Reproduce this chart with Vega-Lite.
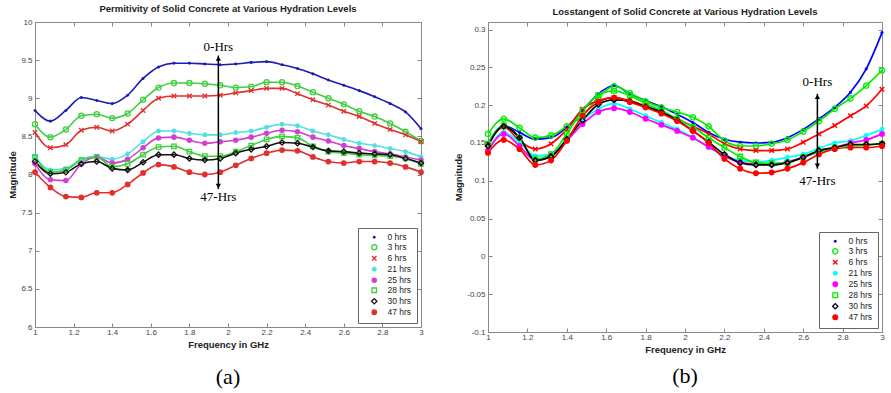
{
"$schema":"https://vega.github.io/schema/vega-lite/v6.json",
"background":"white",
"padding":{"left":7,"top":3,"right":5,"bottom":5},
"datasets":{
"perm":[
{"s":"0 hrs","f":1,"v":8.84},{"s":"0 hrs","f":1.08,"v":8.70},{"s":"0 hrs","f":1.16,"v":8.84},{"s":"0 hrs","f":1.24,"v":9.01},{"s":"0 hrs","f":1.32,"v":8.97},{"s":"0 hrs","f":1.4,"v":8.93},{"s":"0 hrs","f":1.48,"v":9.04},{"s":"0 hrs","f":1.56,"v":9.26},{"s":"0 hrs","f":1.64,"v":9.41},{"s":"0 hrs","f":1.72,"v":9.46},{"s":"0 hrs","f":1.8,"v":9.46},{"s":"0 hrs","f":1.88,"v":9.45},{"s":"0 hrs","f":1.96,"v":9.44},{"s":"0 hrs","f":2.04,"v":9.45},{"s":"0 hrs","f":2.12,"v":9.47},{"s":"0 hrs","f":2.2,"v":9.48},{"s":"0 hrs","f":2.28,"v":9.44},{"s":"0 hrs","f":2.36,"v":9.39},{"s":"0 hrs","f":2.44,"v":9.32},{"s":"0 hrs","f":2.52,"v":9.24},{"s":"0 hrs","f":2.6,"v":9.17},{"s":"0 hrs","f":2.68,"v":9.10},{"s":"0 hrs","f":2.76,"v":9.02},{"s":"0 hrs","f":2.84,"v":8.93},{"s":"0 hrs","f":2.92,"v":8.82},{"s":"0 hrs","f":3,"v":8.60},
{"s":"3 hrs","f":1,"v":8.66},{"s":"3 hrs","f":1.08,"v":8.49},{"s":"3 hrs","f":1.16,"v":8.59},{"s":"3 hrs","f":1.24,"v":8.77},{"s":"3 hrs","f":1.32,"v":8.79},{"s":"3 hrs","f":1.4,"v":8.74},{"s":"3 hrs","f":1.48,"v":8.80},{"s":"3 hrs","f":1.56,"v":8.98},{"s":"3 hrs","f":1.64,"v":9.14},{"s":"3 hrs","f":1.72,"v":9.20},{"s":"3 hrs","f":1.8,"v":9.20},{"s":"3 hrs","f":1.88,"v":9.19},{"s":"3 hrs","f":1.96,"v":9.17},{"s":"3 hrs","f":2.04,"v":9.14},{"s":"3 hrs","f":2.12,"v":9.15},{"s":"3 hrs","f":2.2,"v":9.21},{"s":"3 hrs","f":2.28,"v":9.21},{"s":"3 hrs","f":2.36,"v":9.16},{"s":"3 hrs","f":2.44,"v":9.08},{"s":"3 hrs","f":2.52,"v":9.00},{"s":"3 hrs","f":2.6,"v":8.92},{"s":"3 hrs","f":2.68,"v":8.83},{"s":"3 hrs","f":2.76,"v":8.76},{"s":"3 hrs","f":2.84,"v":8.67},{"s":"3 hrs","f":2.92,"v":8.56},{"s":"3 hrs","f":3,"v":8.44},
{"s":"6 hrs","f":1,"v":8.55},{"s":"6 hrs","f":1.08,"v":8.35},{"s":"6 hrs","f":1.16,"v":8.39},{"s":"6 hrs","f":1.24,"v":8.58},{"s":"6 hrs","f":1.32,"v":8.62},{"s":"6 hrs","f":1.4,"v":8.57},{"s":"6 hrs","f":1.48,"v":8.66},{"s":"6 hrs","f":1.56,"v":8.84},{"s":"6 hrs","f":1.64,"v":9.00},{"s":"6 hrs","f":1.72,"v":9.03},{"s":"6 hrs","f":1.8,"v":9.03},{"s":"6 hrs","f":1.88,"v":9.03},{"s":"6 hrs","f":1.96,"v":9.04},{"s":"6 hrs","f":2.04,"v":9.07},{"s":"6 hrs","f":2.12,"v":9.10},{"s":"6 hrs","f":2.2,"v":9.13},{"s":"6 hrs","f":2.28,"v":9.13},{"s":"6 hrs","f":2.36,"v":9.06},{"s":"6 hrs","f":2.44,"v":8.98},{"s":"6 hrs","f":2.52,"v":8.91},{"s":"6 hrs","f":2.6,"v":8.83},{"s":"6 hrs","f":2.68,"v":8.76},{"s":"6 hrs","f":2.76,"v":8.67},{"s":"6 hrs","f":2.84,"v":8.59},{"s":"6 hrs","f":2.92,"v":8.52},{"s":"6 hrs","f":3,"v":8.43},
{"s":"21 hrs","f":1,"v":8.24},{"s":"21 hrs","f":1.08,"v":8.06},{"s":"21 hrs","f":1.16,"v":8.08},{"s":"21 hrs","f":1.24,"v":8.20},{"s":"21 hrs","f":1.32,"v":8.24},{"s":"21 hrs","f":1.4,"v":8.20},{"s":"21 hrs","f":1.48,"v":8.27},{"s":"21 hrs","f":1.56,"v":8.43},{"s":"21 hrs","f":1.64,"v":8.57},{"s":"21 hrs","f":1.72,"v":8.57},{"s":"21 hrs","f":1.8,"v":8.54},{"s":"21 hrs","f":1.88,"v":8.52},{"s":"21 hrs","f":1.96,"v":8.52},{"s":"21 hrs","f":2.04,"v":8.55},{"s":"21 hrs","f":2.12,"v":8.57},{"s":"21 hrs","f":2.2,"v":8.62},{"s":"21 hrs","f":2.28,"v":8.66},{"s":"21 hrs","f":2.36,"v":8.64},{"s":"21 hrs","f":2.44,"v":8.57},{"s":"21 hrs","f":2.52,"v":8.52},{"s":"21 hrs","f":2.6,"v":8.46},{"s":"21 hrs","f":2.68,"v":8.41},{"s":"21 hrs","f":2.76,"v":8.38},{"s":"21 hrs","f":2.84,"v":8.34},{"s":"21 hrs","f":2.92,"v":8.30},{"s":"21 hrs","f":3,"v":8.23},
{"s":"25 hrs","f":1,"v":8.14},{"s":"25 hrs","f":1.08,"v":7.93},{"s":"25 hrs","f":1.16,"v":7.92},{"s":"25 hrs","f":1.24,"v":8.14},{"s":"25 hrs","f":1.32,"v":8.23},{"s":"25 hrs","f":1.4,"v":8.15},{"s":"25 hrs","f":1.48,"v":8.20},{"s":"25 hrs","f":1.56,"v":8.35},{"s":"25 hrs","f":1.64,"v":8.48},{"s":"25 hrs","f":1.72,"v":8.49},{"s":"25 hrs","f":1.8,"v":8.45},{"s":"25 hrs","f":1.88,"v":8.41},{"s":"25 hrs","f":1.96,"v":8.43},{"s":"25 hrs","f":2.04,"v":8.45},{"s":"25 hrs","f":2.12,"v":8.49},{"s":"25 hrs","f":2.2,"v":8.54},{"s":"25 hrs","f":2.28,"v":8.58},{"s":"25 hrs","f":2.36,"v":8.56},{"s":"25 hrs","f":2.44,"v":8.49},{"s":"25 hrs","f":2.52,"v":8.44},{"s":"25 hrs","f":2.6,"v":8.38},{"s":"25 hrs","f":2.68,"v":8.34},{"s":"25 hrs","f":2.76,"v":8.30},{"s":"25 hrs","f":2.84,"v":8.27},{"s":"25 hrs","f":2.92,"v":8.23},{"s":"25 hrs","f":3,"v":8.19},
{"s":"28 hrs","f":1,"v":8.23},{"s":"28 hrs","f":1.08,"v":8.03},{"s":"28 hrs","f":1.16,"v":8.06},{"s":"28 hrs","f":1.24,"v":8.19},{"s":"28 hrs","f":1.32,"v":8.23},{"s":"28 hrs","f":1.4,"v":8.10},{"s":"28 hrs","f":1.48,"v":8.14},{"s":"28 hrs","f":1.56,"v":8.26},{"s":"28 hrs","f":1.64,"v":8.36},{"s":"28 hrs","f":1.72,"v":8.37},{"s":"28 hrs","f":1.8,"v":8.30},{"s":"28 hrs","f":1.88,"v":8.24},{"s":"28 hrs","f":1.96,"v":8.24},{"s":"28 hrs","f":2.04,"v":8.30},{"s":"28 hrs","f":2.12,"v":8.38},{"s":"28 hrs","f":2.2,"v":8.46},{"s":"28 hrs","f":2.28,"v":8.50},{"s":"28 hrs","f":2.36,"v":8.48},{"s":"28 hrs","f":2.44,"v":8.37},{"s":"28 hrs","f":2.52,"v":8.30},{"s":"28 hrs","f":2.6,"v":8.28},{"s":"28 hrs","f":2.68,"v":8.26},{"s":"28 hrs","f":2.76,"v":8.25},{"s":"28 hrs","f":2.84,"v":8.24},{"s":"28 hrs","f":2.92,"v":8.21},{"s":"28 hrs","f":3,"v":8.14},
{"s":"30 hrs","f":1,"v":8.17},{"s":"30 hrs","f":1.08,"v":8.01},{"s":"30 hrs","f":1.16,"v":8.03},{"s":"30 hrs","f":1.24,"v":8.14},{"s":"30 hrs","f":1.32,"v":8.17},{"s":"30 hrs","f":1.4,"v":8.08},{"s":"30 hrs","f":1.48,"v":8.06},{"s":"30 hrs","f":1.56,"v":8.16},{"s":"30 hrs","f":1.64,"v":8.26},{"s":"30 hrs","f":1.72,"v":8.26},{"s":"30 hrs","f":1.8,"v":8.21},{"s":"30 hrs","f":1.88,"v":8.19},{"s":"30 hrs","f":1.96,"v":8.21},{"s":"30 hrs","f":2.04,"v":8.28},{"s":"30 hrs","f":2.12,"v":8.33},{"s":"30 hrs","f":2.2,"v":8.37},{"s":"30 hrs","f":2.28,"v":8.42},{"s":"30 hrs","f":2.36,"v":8.41},{"s":"30 hrs","f":2.44,"v":8.36},{"s":"30 hrs","f":2.52,"v":8.31},{"s":"30 hrs","f":2.6,"v":8.30},{"s":"30 hrs","f":2.68,"v":8.28},{"s":"30 hrs","f":2.76,"v":8.27},{"s":"30 hrs","f":2.84,"v":8.26},{"s":"30 hrs","f":2.92,"v":8.21},{"s":"30 hrs","f":3,"v":8.15},
{"s":"47 hrs","f":1,"v":8.03},{"s":"47 hrs","f":1.08,"v":7.83},{"s":"47 hrs","f":1.16,"v":7.71},{"s":"47 hrs","f":1.24,"v":7.70},{"s":"47 hrs","f":1.32,"v":7.76},{"s":"47 hrs","f":1.4,"v":7.76},{"s":"47 hrs","f":1.48,"v":7.87},{"s":"47 hrs","f":1.56,"v":8.02},{"s":"47 hrs","f":1.64,"v":8.13},{"s":"47 hrs","f":1.72,"v":8.10},{"s":"47 hrs","f":1.8,"v":8.03},{"s":"47 hrs","f":1.88,"v":8.00},{"s":"47 hrs","f":1.96,"v":8.03},{"s":"47 hrs","f":2.04,"v":8.12},{"s":"47 hrs","f":2.12,"v":8.21},{"s":"47 hrs","f":2.2,"v":8.28},{"s":"47 hrs","f":2.28,"v":8.32},{"s":"47 hrs","f":2.36,"v":8.31},{"s":"47 hrs","f":2.44,"v":8.23},{"s":"47 hrs","f":2.52,"v":8.17},{"s":"47 hrs","f":2.6,"v":8.15},{"s":"47 hrs","f":2.68,"v":8.17},{"s":"47 hrs","f":2.76,"v":8.17},{"s":"47 hrs","f":2.84,"v":8.15},{"s":"47 hrs","f":2.92,"v":8.10},{"s":"47 hrs","f":3,"v":8.03}
],
"loss":[
{"s":"0 hrs","f":1,"v":0.149},{"s":"0 hrs","f":1.08,"v":0.173},{"s":"0 hrs","f":1.16,"v":0.164},{"s":"0 hrs","f":1.24,"v":0.155},{"s":"0 hrs","f":1.32,"v":0.157},{"s":"0 hrs","f":1.4,"v":0.171},{"s":"0 hrs","f":1.48,"v":0.193},{"s":"0 hrs","f":1.56,"v":0.215},{"s":"0 hrs","f":1.64,"v":0.226},{"s":"0 hrs","f":1.72,"v":0.215},{"s":"0 hrs","f":1.8,"v":0.206},{"s":"0 hrs","f":1.88,"v":0.198},{"s":"0 hrs","f":1.96,"v":0.188},{"s":"0 hrs","f":2.04,"v":0.177},{"s":"0 hrs","f":2.12,"v":0.164},{"s":"0 hrs","f":2.2,"v":0.155},{"s":"0 hrs","f":2.28,"v":0.151},{"s":"0 hrs","f":2.36,"v":0.150},{"s":"0 hrs","f":2.44,"v":0.151},{"s":"0 hrs","f":2.52,"v":0.157},{"s":"0 hrs","f":2.6,"v":0.168},{"s":"0 hrs","f":2.68,"v":0.182},{"s":"0 hrs","f":2.76,"v":0.197},{"s":"0 hrs","f":2.84,"v":0.217},{"s":"0 hrs","f":2.92,"v":0.248},{"s":"0 hrs","f":3,"v":0.296},
{"s":"3 hrs","f":1,"v":0.162},{"s":"3 hrs","f":1.08,"v":0.182},{"s":"3 hrs","f":1.16,"v":0.170},{"s":"3 hrs","f":1.24,"v":0.157},{"s":"3 hrs","f":1.32,"v":0.160},{"s":"3 hrs","f":1.4,"v":0.172},{"s":"3 hrs","f":1.48,"v":0.186},{"s":"3 hrs","f":1.56,"v":0.210},{"s":"3 hrs","f":1.64,"v":0.225},{"s":"3 hrs","f":1.72,"v":0.216},{"s":"3 hrs","f":1.8,"v":0.205},{"s":"3 hrs","f":1.88,"v":0.197},{"s":"3 hrs","f":1.96,"v":0.191},{"s":"3 hrs","f":2.04,"v":0.184},{"s":"3 hrs","f":2.12,"v":0.172},{"s":"3 hrs","f":2.2,"v":0.153},{"s":"3 hrs","f":2.28,"v":0.146},{"s":"3 hrs","f":2.36,"v":0.146},{"s":"3 hrs","f":2.44,"v":0.149},{"s":"3 hrs","f":2.52,"v":0.154},{"s":"3 hrs","f":2.6,"v":0.165},{"s":"3 hrs","f":2.68,"v":0.179},{"s":"3 hrs","f":2.76,"v":0.195},{"s":"3 hrs","f":2.84,"v":0.209},{"s":"3 hrs","f":2.92,"v":0.226},{"s":"3 hrs","f":3,"v":0.246},
{"s":"6 hrs","f":1,"v":0.149},{"s":"6 hrs","f":1.08,"v":0.171},{"s":"6 hrs","f":1.16,"v":0.153},{"s":"6 hrs","f":1.24,"v":0.142},{"s":"6 hrs","f":1.32,"v":0.149},{"s":"6 hrs","f":1.4,"v":0.168},{"s":"6 hrs","f":1.48,"v":0.195},{"s":"6 hrs","f":1.56,"v":0.206},{"s":"6 hrs","f":1.64,"v":0.210},{"s":"6 hrs","f":1.72,"v":0.206},{"s":"6 hrs","f":1.8,"v":0.199},{"s":"6 hrs","f":1.88,"v":0.191},{"s":"6 hrs","f":1.96,"v":0.182},{"s":"6 hrs","f":2.04,"v":0.172},{"s":"6 hrs","f":2.12,"v":0.162},{"s":"6 hrs","f":2.2,"v":0.149},{"s":"6 hrs","f":2.28,"v":0.142},{"s":"6 hrs","f":2.36,"v":0.140},{"s":"6 hrs","f":2.44,"v":0.140},{"s":"6 hrs","f":2.52,"v":0.142},{"s":"6 hrs","f":2.6,"v":0.151},{"s":"6 hrs","f":2.68,"v":0.162},{"s":"6 hrs","f":2.76,"v":0.173},{"s":"6 hrs","f":2.84,"v":0.186},{"s":"6 hrs","f":2.92,"v":0.199},{"s":"6 hrs","f":3,"v":0.221},
{"s":"21 hrs","f":1,"v":0.140},{"s":"21 hrs","f":1.08,"v":0.164},{"s":"21 hrs","f":1.16,"v":0.151},{"s":"21 hrs","f":1.24,"v":0.133},{"s":"21 hrs","f":1.32,"v":0.135},{"s":"21 hrs","f":1.4,"v":0.155},{"s":"21 hrs","f":1.48,"v":0.180},{"s":"21 hrs","f":1.56,"v":0.195},{"s":"21 hrs","f":1.64,"v":0.202},{"s":"21 hrs","f":1.72,"v":0.195},{"s":"21 hrs","f":1.8,"v":0.186},{"s":"21 hrs","f":1.88,"v":0.177},{"s":"21 hrs","f":1.96,"v":0.168},{"s":"21 hrs","f":2.04,"v":0.157},{"s":"21 hrs","f":2.12,"v":0.144},{"s":"21 hrs","f":2.2,"v":0.133},{"s":"21 hrs","f":2.28,"v":0.127},{"s":"21 hrs","f":2.36,"v":0.125},{"s":"21 hrs","f":2.44,"v":0.127},{"s":"21 hrs","f":2.52,"v":0.131},{"s":"21 hrs","f":2.6,"v":0.135},{"s":"21 hrs","f":2.68,"v":0.143},{"s":"21 hrs","f":2.76,"v":0.150},{"s":"21 hrs","f":2.84,"v":0.153},{"s":"21 hrs","f":2.92,"v":0.160},{"s":"21 hrs","f":3,"v":0.168},
{"s":"25 hrs","f":1,"v":0.140},{"s":"25 hrs","f":1.08,"v":0.162},{"s":"25 hrs","f":1.16,"v":0.146},{"s":"25 hrs","f":1.24,"v":0.127},{"s":"25 hrs","f":1.32,"v":0.133},{"s":"25 hrs","f":1.4,"v":0.153},{"s":"25 hrs","f":1.48,"v":0.175},{"s":"25 hrs","f":1.56,"v":0.191},{"s":"25 hrs","f":1.64,"v":0.196},{"s":"25 hrs","f":1.72,"v":0.191},{"s":"25 hrs","f":1.8,"v":0.182},{"s":"25 hrs","f":1.88,"v":0.174},{"s":"25 hrs","f":1.96,"v":0.166},{"s":"25 hrs","f":2.04,"v":0.157},{"s":"25 hrs","f":2.12,"v":0.145},{"s":"25 hrs","f":2.2,"v":0.133},{"s":"25 hrs","f":2.28,"v":0.124},{"s":"25 hrs","f":2.36,"v":0.122},{"s":"25 hrs","f":2.44,"v":0.122},{"s":"25 hrs","f":2.52,"v":0.125},{"s":"25 hrs","f":2.6,"v":0.131},{"s":"25 hrs","f":2.68,"v":0.138},{"s":"25 hrs","f":2.76,"v":0.144},{"s":"25 hrs","f":2.84,"v":0.150},{"s":"25 hrs","f":2.92,"v":0.154},{"s":"25 hrs","f":3,"v":0.162},
{"s":"28 hrs","f":1,"v":0.149},{"s":"28 hrs","f":1.08,"v":0.173},{"s":"28 hrs","f":1.16,"v":0.157},{"s":"28 hrs","f":1.24,"v":0.129},{"s":"28 hrs","f":1.32,"v":0.135},{"s":"28 hrs","f":1.4,"v":0.162},{"s":"28 hrs","f":1.48,"v":0.193},{"s":"28 hrs","f":1.56,"v":0.213},{"s":"28 hrs","f":1.64,"v":0.219},{"s":"28 hrs","f":1.72,"v":0.213},{"s":"28 hrs","f":1.8,"v":0.202},{"s":"28 hrs","f":1.88,"v":0.193},{"s":"28 hrs","f":1.96,"v":0.182},{"s":"28 hrs","f":2.04,"v":0.171},{"s":"28 hrs","f":2.12,"v":0.157},{"s":"28 hrs","f":2.2,"v":0.144},{"s":"28 hrs","f":2.28,"v":0.132},{"s":"28 hrs","f":2.36,"v":0.124},{"s":"28 hrs","f":2.44,"v":0.123},{"s":"28 hrs","f":2.52,"v":0.124},{"s":"28 hrs","f":2.6,"v":0.131},{"s":"28 hrs","f":2.68,"v":0.138},{"s":"28 hrs","f":2.76,"v":0.144},{"s":"28 hrs","f":2.84,"v":0.146},{"s":"28 hrs","f":2.92,"v":0.147},{"s":"28 hrs","f":3,"v":0.149},
{"s":"30 hrs","f":1,"v":0.146},{"s":"30 hrs","f":1.08,"v":0.172},{"s":"30 hrs","f":1.16,"v":0.157},{"s":"30 hrs","f":1.24,"v":0.127},{"s":"30 hrs","f":1.32,"v":0.132},{"s":"30 hrs","f":1.4,"v":0.155},{"s":"30 hrs","f":1.48,"v":0.180},{"s":"30 hrs","f":1.56,"v":0.201},{"s":"30 hrs","f":1.64,"v":0.207},{"s":"30 hrs","f":1.72,"v":0.205},{"s":"30 hrs","f":1.8,"v":0.198},{"s":"30 hrs","f":1.88,"v":0.191},{"s":"30 hrs","f":1.96,"v":0.180},{"s":"30 hrs","f":2.04,"v":0.166},{"s":"30 hrs","f":2.12,"v":0.151},{"s":"30 hrs","f":2.2,"v":0.135},{"s":"30 hrs","f":2.28,"v":0.124},{"s":"30 hrs","f":2.36,"v":0.121},{"s":"30 hrs","f":2.44,"v":0.121},{"s":"30 hrs","f":2.52,"v":0.124},{"s":"30 hrs","f":2.6,"v":0.131},{"s":"30 hrs","f":2.68,"v":0.140},{"s":"30 hrs","f":2.76,"v":0.144},{"s":"30 hrs","f":2.84,"v":0.148},{"s":"30 hrs","f":2.92,"v":0.148},{"s":"30 hrs","f":3,"v":0.149},
{"s":"47 hrs","f":1,"v":0.137},{"s":"47 hrs","f":1.08,"v":0.154},{"s":"47 hrs","f":1.16,"v":0.142},{"s":"47 hrs","f":1.24,"v":0.121},{"s":"47 hrs","f":1.32,"v":0.127},{"s":"47 hrs","f":1.4,"v":0.153},{"s":"47 hrs","f":1.48,"v":0.186},{"s":"47 hrs","f":1.56,"v":0.204},{"s":"47 hrs","f":1.64,"v":0.210},{"s":"47 hrs","f":1.72,"v":0.204},{"s":"47 hrs","f":1.8,"v":0.197},{"s":"47 hrs","f":1.88,"v":0.189},{"s":"47 hrs","f":1.96,"v":0.179},{"s":"47 hrs","f":2.04,"v":0.166},{"s":"47 hrs","f":2.12,"v":0.150},{"s":"47 hrs","f":2.2,"v":0.129},{"s":"47 hrs","f":2.28,"v":0.116},{"s":"47 hrs","f":2.36,"v":0.110},{"s":"47 hrs","f":2.44,"v":0.111},{"s":"47 hrs","f":2.52,"v":0.116},{"s":"47 hrs","f":2.6,"v":0.124},{"s":"47 hrs","f":2.68,"v":0.135},{"s":"47 hrs","f":2.76,"v":0.142},{"s":"47 hrs","f":2.84,"v":0.144},{"s":"47 hrs","f":2.92,"v":0.144},{"s":"47 hrs","f":3,"v":0.146}
]
},
"hconcat":[
{"resolve":{"scale":{"stroke":"independent","fill":"independent","shape":"independent","size":"independent"},"legend":{"stroke":"independent","fill":"independent","shape":"independent","size":"independent"}},
 "vconcat":[
 {"width":386,"height":305,
  "title":{"text":"Permitivity of Solid Concrete at Various Hydration Levels","font":"Liberation Sans","fontSize":9.5,"fontWeight":"bold","color":"#222","offset":5},
  "resolve":{"axis":{"x":"independent","y":"independent"}},
  "layer":[
    {"data":{"name":"perm"},"mark":{"type":"line","interpolate":"monotone","strokeWidth":1.6},
     "encoding":{
      "x":{"field":"f","type":"quantitative","scale":{"domain":[1,3],"nice":false},"axis":{"values":[1,1.2,1.4,1.6,1.8,2,2.2,2.4,2.6,2.8,3],"format":".1~f","title":"Frequency in GHz","titlePadding":3,"labelPadding":5,"labelOverlap":false}},
      "y":{"field":"v","type":"quantitative","scale":{"domain":[6,10],"nice":false},"axis":{"values":[6,6.5,7,7.5,8,8.5,9,9.5,10],"format":".1~f","title":"Magnitude","titlePadding":3,"labelOverlap":false}},
      "stroke":{"field":"s","type":"nominal","scale":{"domain":["0 hrs","3 hrs","6 hrs","21 hrs","25 hrs","28 hrs","30 hrs","47 hrs"],"range":["#1c1cb4","#3fcf3f","#e03030","#4fe0e0","#d040d0","#3fcf3f","#111111","#e03030"]},"legend":{"title":null,"orient":"bottom-right","symbolSize":25,"rowPadding":0}}}},
    {"data":{"name":"perm"},"mark":{"type":"point","strokeWidth":1.3,"opacity":1},
     "encoding":{
      "x":{"field":"f","type":"quantitative","axis":null},
      "y":{"field":"v","type":"quantitative","axis":null},
      "stroke":{"field":"s","type":"nominal","legend":{"title":null,"orient":"bottom-right","symbolSize":25,"rowPadding":0}},
      "fill":{"field":"s","type":"nominal","scale":{"domain":["0 hrs","3 hrs","6 hrs","21 hrs","25 hrs","28 hrs","30 hrs","47 hrs"],"range":["#1c1cb4","transparent","transparent","transparent","#d040d0","transparent","transparent","#e03030"]},"legend":{"title":null,"orient":"bottom-right","symbolSize":25,"rowPadding":0}},
      "shape":{"field":"s","type":"nominal","scale":{"domain":["0 hrs","3 hrs","6 hrs","21 hrs","25 hrs","28 hrs","30 hrs","47 hrs"],"range":["circle","circle","M-1,-1L1,1M-1,1L1,-1","M-1,0L1,0M0,-1L0,1M-0.7,-0.7L0.7,0.7M-0.7,0.7L0.7,-0.7","circle","square","diamond","circle"]},"legend":{"title":null,"orient":"bottom-right","symbolSize":25,"rowPadding":0}},
      "size":{"field":"s","type":"nominal","scale":{"type":"ordinal","domain":["0 hrs","3 hrs","6 hrs","21 hrs","25 hrs","28 hrs","30 hrs","47 hrs"],"range":[3,26,20,26,18,20,28,20]},"legend":{"title":null,"orient":"bottom-right","symbolSize":25,"rowPadding":0}}}},
    {"data":{"values":[{"f":1.95,"v":9.56}]},"mark":{"type":"point","shape":"triangle-up","filled":true,"color":"black","size":28,"opacity":1,"yOffset":3},
     "encoding":{"x":{"field":"f","type":"quantitative","axis":null},"y":{"field":"v","type":"quantitative","axis":null}}},
    {"data":{"values":[{"f":1.95,"v":7.81}]},"mark":{"type":"point","shape":"triangle-down","filled":true,"color":"black","size":28,"opacity":1,"yOffset":-3},
     "encoding":{"x":{"field":"f","type":"quantitative","axis":null},"y":{"field":"v","type":"quantitative","axis":null}}},
    {"data":{"values":[{"f":1.95,"v":9.67,"t":"0-Hrs"},{"f":1.95,"v":7.70,"t":"47-Hrs"}]},"mark":{"type":"text","font":"Liberation Serif","fontSize":13,"color":"black","baseline":"middle","align":"center"},
     "encoding":{"x":{"field":"f","type":"quantitative","axis":null},"y":{"field":"v","type":"quantitative","axis":null},"text":{"field":"t"}}},
    {"data":{"values":[{"f":1.95,"v":9.56,"v2":7.81}]},"mark":{"type":"rule","strokeWidth":1.5,"color":"black"},
     "encoding":{
      "x":{"field":"f","type":"quantitative","axis":{"orient":"top","labels":false,"title":null,"domain":false,"values":[1,1.2,1.4,1.6,1.8,2,2.2,2.4,2.6,2.8,3]}},
      "y":{"field":"v","type":"quantitative","axis":{"orient":"right","labels":false,"title":null,"domain":false,"values":[6,6.5,7,7.5,8,8.5,9,9.5,10]}},
      "y2":{"field":"v2"}}}
  ]},
 {"width":386,"height":20,"view":{"stroke":null},"data":{"values":[{"c":"(a)"}]},"mark":{"type":"text","font":"Liberation Serif","fontSize":22,"color":"black","baseline":"middle"},"encoding":{"text":{"field":"c","type":"nominal"}}}
],"spacing":17},
{"resolve":{"scale":{"stroke":"independent","fill":"independent","shape":"independent","size":"independent"},"legend":{"stroke":"independent","fill":"independent","shape":"independent","size":"independent"}},
 "vconcat":[
 {"width":394,"height":310,
  "title":{"text":"Losstangent of Solid Concrete at Various Hydration Levels","font":"Liberation Sans","fontSize":9.5,"fontWeight":"bold","color":"#222","offset":5},
  "resolve":{"axis":{"x":"independent","y":"independent"}},
  "layer":[
    {"data":{"name":"loss"},"mark":{"type":"line","interpolate":"monotone","strokeWidth":1.7},
     "encoding":{
      "x":{"field":"f","type":"quantitative","scale":{"domain":[1,3],"nice":false},"axis":{"values":[1,1.2,1.4,1.6,1.8,2,2.2,2.4,2.6,2.8,3],"format":".1~f","title":"Frequency in GHz","titlePadding":3,"labelPadding":5,"labelOverlap":false}},
      "y":{"field":"v","type":"quantitative","scale":{"domain":[-0.1,0.31],"nice":false,"zero":false},"axis":{"values":[-0.1,-0.05,0,0.05,0.1,0.15,0.2,0.25,0.3],"labelExpr":"replace(format(datum.value,'.2~f'),'−','-')","title":"Magnitude","titlePadding":3,"labelOverlap":false}},
      "stroke":{"field":"s","type":"nominal","scale":{"domain":["0 hrs","3 hrs","6 hrs","21 hrs","25 hrs","28 hrs","30 hrs","47 hrs"],"range":["#0000ff","#00ee00","#ff0000","#00ffff","#ff00ff","#00ee00","#000000","#ff0000"]},"legend":{"title":null,"orient":"bottom-right","symbolSize":25,"rowPadding":0}}}},
    {"data":{"name":"loss"},"mark":{"type":"point","strokeWidth":1.4,"opacity":1},
     "encoding":{
      "x":{"field":"f","type":"quantitative","axis":null},
      "y":{"field":"v","type":"quantitative","axis":null},
      "stroke":{"field":"s","type":"nominal","legend":{"title":null,"orient":"bottom-right","symbolSize":25,"rowPadding":0}},
      "fill":{"field":"s","type":"nominal","scale":{"domain":["0 hrs","3 hrs","6 hrs","21 hrs","25 hrs","28 hrs","30 hrs","47 hrs"],"range":["#0000ff","transparent","transparent","transparent","#ff00ff","transparent","transparent","#ff0000"]},"legend":{"title":null,"orient":"bottom-right","symbolSize":25,"rowPadding":0}},
      "shape":{"field":"s","type":"nominal","scale":{"domain":["0 hrs","3 hrs","6 hrs","21 hrs","25 hrs","28 hrs","30 hrs","47 hrs"],"range":["circle","circle","M-1,-1L1,1M-1,1L1,-1","M-1,0L1,0M0,-1L0,1M-0.7,-0.7L0.7,0.7M-0.7,0.7L0.7,-0.7","circle","square","diamond","circle"]},"legend":{"title":null,"orient":"bottom-right","symbolSize":25,"rowPadding":0}},
      "size":{"field":"s","type":"nominal","scale":{"type":"ordinal","domain":["0 hrs","3 hrs","6 hrs","21 hrs","25 hrs","28 hrs","30 hrs","47 hrs"],"range":[3,28,20,26,20,22,28,22]},"legend":{"title":null,"orient":"bottom-right","symbolSize":25,"rowPadding":0}}}},
    {"data":{"values":[{"f":2.672,"v":0.215}]},"mark":{"type":"point","shape":"triangle-up","filled":true,"color":"black","size":28,"opacity":1,"yOffset":3},
     "encoding":{"x":{"field":"f","type":"quantitative","axis":null},"y":{"field":"v","type":"quantitative","axis":null}}},
    {"data":{"values":[{"f":2.672,"v":0.116}]},"mark":{"type":"point","shape":"triangle-down","filled":true,"color":"black","size":28,"opacity":1,"yOffset":-3},
     "encoding":{"x":{"field":"f","type":"quantitative","axis":null},"y":{"field":"v","type":"quantitative","axis":null}}},
    {"data":{"values":[{"f":2.672,"v":0.231,"t":"0-Hrs"},{"f":2.672,"v":0.100,"t":"47-Hrs"}]},"mark":{"type":"text","font":"Liberation Serif","fontSize":13,"color":"black","baseline":"middle","align":"center"},
     "encoding":{"x":{"field":"f","type":"quantitative","axis":null},"y":{"field":"v","type":"quantitative","axis":null},"text":{"field":"t"}}},
    {"data":{"values":[{"f":2.672,"v":0.215,"v2":0.116}]},"mark":{"type":"rule","strokeWidth":1.5,"color":"black"},
     "encoding":{
      "x":{"field":"f","type":"quantitative","axis":{"orient":"top","labels":false,"title":null,"domain":false,"values":[1,1.2,1.4,1.6,1.8,2,2.2,2.4,2.6,2.8,3]}},
      "y":{"field":"v","type":"quantitative","axis":{"orient":"right","labels":false,"title":null,"domain":false,"values":[-0.1,-0.05,0,0.05,0.1,0.15,0.2,0.25,0.3]}},
      "y2":{"field":"v2"}}}
  ]},
 {"width":394,"height":20,"view":{"stroke":null},"data":{"values":[{"c":"(b)"}]},"mark":{"type":"text","font":"Liberation Serif","fontSize":22,"color":"black","baseline":"middle"},"encoding":{"text":{"field":"c","type":"nominal"}}}
],"spacing":11}
],
"spacing":26,
"resolve":{"scale":{"stroke":"independent","fill":"independent","shape":"independent","size":"independent"},"legend":{"stroke":"independent","fill":"independent","shape":"independent","size":"independent"}},
"config":{
 "view":{"stroke":"#888"},
 "axis":{"labelFont":"Liberation Sans","labelFontSize":8,"labelColor":"#444","titleFont":"Liberation Sans","titleFontSize":9.5,"titleFontWeight":"bold","titleColor":"#222","domainColor":"#888","tickColor":"#888","tickSize":-4,"labelPadding":7,"grid":false,"labelFlush":false,"labelOverlap":false},
 "legend":{"offset":4,"strokeColor":"#666","fillColor":"white","padding":5,"labelFont":"Liberation Sans","labelFontSize":8.5,"labelColor":"#222","rowPadding":0,"symbolSize":25,"symbolStrokeWidth":1.3,"symbolOffset":7,"labelOffset":9,"cornerRadius":0}
}
}
